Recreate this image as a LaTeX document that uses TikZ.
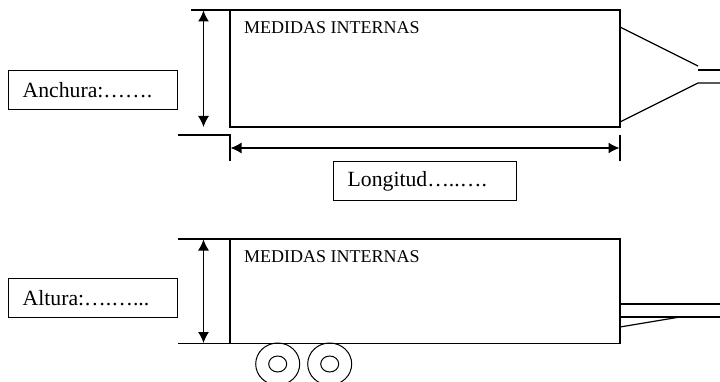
\documentclass[tikz,border=0pt]{standalone}
\usepackage{fontspec}
\setmainfont{Liberation Serif}
\usetikzlibrary{arrows.meta}
\tikzset{
    >={Latex[length=11pt,width=11pt]},
    etiqueta/.style={shape=rectangle, draw=black, line width=1.4pt, anchor=north west, minimum height=39pt, inner xsep=14pt, inner ysep=0pt, align=left, font=\fontsize{21.7}{24}\selectfont},
    medidas/.style={anchor=west, inner sep=0pt, font=\fontsize{18}{22}\selectfont},
    rueda/.style={shape=ellipse, draw=black, line width=1pt, inner sep=0pt}}
\usetikzlibrary{shapes.geometric}

\begin{document}
\begin{tikzpicture}[x=1pt, y=-1pt, line width=1.2pt]

        \useasboundingbox (0,0) rectangle (720,382);
        \clip (0,0) rectangle (720,382);

            % vista superior
            \coordinate (A) at (191,10);
            \coordinate (B) at (230,10);
            \coordinate (C) at (620,10);
            \coordinate (D) at (620,127);
            \coordinate (E) at (230,127);
            \coordinate (F) at (178,135);
            \coordinate (G) at (230,135);
            \coordinate (H) at (230,161);
            \coordinate (I) at (620,135);
            \coordinate (J) at (620,161);

            \draw (A) -- (C) -- (D) -- (E) -- (B);
            \draw (F) -- (G) -- (H);
            \draw (I) -- (J);
            \draw[<->] (203.5,10.5) coordinate (K) -- (203.5,127) coordinate (L);
            \draw[<->] (230.5,148) coordinate (M) -- (619.5,148) coordinate (N);

            \coordinate (P) at (620,27);
            \coordinate (Q) at (698,66);
            \coordinate (R) at (620,122);
            \coordinate (S) at (698,83);
            \coordinate (T) at (698,70);
            \coordinate (U) at (720,70);
            \coordinate (V) at (720,83);
            \draw (P) -- (Q);
            \draw (R) -- (S) -- (V);
            \draw (T) -- (U);

            \node[medidas] (m1) at (243.5,28) {MEDIDAS INTERNAS};
            \node[etiqueta, text width=141pt] (anchura) at (8,70) {Anchura:…….};
            \node[etiqueta, text width=155pt] (longitud) at (333,161) {Longitud…..….};

            % vista lateral
            \coordinate (a) at (178,239);
            \coordinate (b) at (230,239);
            \coordinate (c) at (620,239);
            \coordinate (d) at (178,343.5);
            \coordinate (e) at (230,343.5);
            \coordinate (f) at (620,343.5);

            \draw (a) -- (c) -- (f) -- (d);
            \draw (b) -- (e);
            \draw[<->] (203.5,239.5) coordinate (g) -- (203.5,343) coordinate (h);

            \coordinate (p) at (620,304);
            \coordinate (q) at (720,304);
            \coordinate (r) at (620,317);
            \coordinate (s) at (720,317);
            \coordinate (t) at (620,327);
            \coordinate (u) at (680,317);
            \draw (p) -- (q);
            \draw (r) -- (s);
            \draw (t) -- (u);

            \node[medidas] (m2) at (243.5,257) {MEDIDAS INTERNAS};
            \node[etiqueta, text width=141pt] (altura) at (8,278) {Altura:….…...};

            \foreach \cx/\name in {277.7/w1, 329.7/w2} {
                \node[rueda, minimum width=44pt, minimum height=42pt] (\name o) at (\cx,364) {};
                \node[rueda, minimum width=18pt, minimum height=16pt] (\name i) at (\cx,364) {};
            }

\end{tikzpicture}
\end{document}
